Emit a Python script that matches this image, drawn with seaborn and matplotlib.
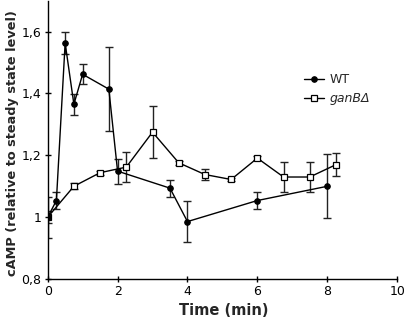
# cAMP time course after stimulation, WT vs ganB deletion
import matplotlib
matplotlib.use('Agg')
import matplotlib.pyplot as plt
import seaborn as sns
import pandas as pd

wt_time = [0, 0.25, 0.5, 0.75, 1.0, 1.75, 2.0, 3.5, 4.0, 6.0, 8.0]
wt_camp = [1.0, 1.054, 1.563, 1.365, 1.462, 1.414, 1.149, 1.094, 0.986, 1.054, 1.10]
wt_err = [0.02, 0.027, 0.035, 0.033, 0.033, 0.136, 0.04, 0.027, 0.066, 0.027, 0.103]

gan_time = [0, 0.75, 1.5, 2.25, 3.0, 3.75, 4.5, 5.25, 6.0, 6.75, 7.5, 8.25]
gan_camp = [1.0, 1.10, 1.144, 1.162, 1.275, 1.176, 1.138, 1.122, 1.191, 1.13, 1.13, 1.17]
gan_err = [0.067, 0.01, 0.007, 0.048, 0.085, 0.007, 0.018, 0.005, 0.007, 0.047, 0.047, 0.037]

wt = pd.DataFrame({'t': wt_time, 'camp': wt_camp})
gan = pd.DataFrame({'t': gan_time, 'camp': gan_camp})

sns.set_style('ticks')
plt.rcParams['font.family'] = ['DejaVu Sans']

fig = plt.figure(figsize=(4.04, 3.19), dpi=100)
ax = fig.add_axes([0.118, 0.125, 0.865, 0.873])

ax.errorbar(gan_time, gan_camp, yerr=gan_err, fmt='none', ecolor='#222222',
            elinewidth=1, capsize=3, capthick=1, zorder=2)
ax.errorbar(wt_time, wt_camp, yerr=wt_err, fmt='none', ecolor='#222222',
            elinewidth=1, capsize=3, capthick=1, zorder=2)

sns.lineplot(data=gan, x='t', y='camp', ax=ax, sort=False, color='black', lw=1,
             marker='s', markersize=5, markerfacecolor='white',
             markeredgecolor='black', markeredgewidth=0.9, label='ganB\u0394', zorder=3)
sns.lineplot(data=wt, x='t', y='camp', ax=ax, sort=False, color='black', lw=1,
             marker='o', markersize=4, markerfacecolor='black',
             markeredgecolor='black', label='WT', zorder=4)

ax.set_xlim(0, 10)
ax.set_ylim(0.8, 1.7)
ax.set_xticks([0, 2, 4, 6, 8, 10])
ax.set_yticks([0.8, 1.0, 1.2, 1.4, 1.6])
ax.set_yticklabels(['0,8', '1', '1,2', '1,4', '1,6'])
ax.tick_params(direction='inout', length=5, width=1, labelsize=9, colors='black', pad=2)
for s in ['top', 'right']:
    ax.spines[s].set_visible(False)
for s in ['left', 'bottom']:
    ax.spines[s].set_color('black')
    ax.spines[s].set_linewidth(1)

ax.set_xlabel('Time (min)', fontsize=10.5, fontweight='bold')
ax.xaxis.set_label_coords(0.505, -0.085)
ax.set_ylabel('cAMP (relative to steady state level)', fontsize=9.3,
              fontweight='bold')
ax.yaxis.set_label_coords(-0.082, 0.49)

handles, labels = ax.get_legend_handles_labels()
leg = ax.legend(handles[::-1], labels[::-1], loc='upper left',
                bbox_to_anchor=(0.7, 0.78), frameon=False, fontsize=9,
                handlelength=1.6, handletextpad=0.5, labelspacing=0.5)
leg.get_texts()[1].set_fontstyle('italic')

fig.savefig('out.png', dpi=100)
